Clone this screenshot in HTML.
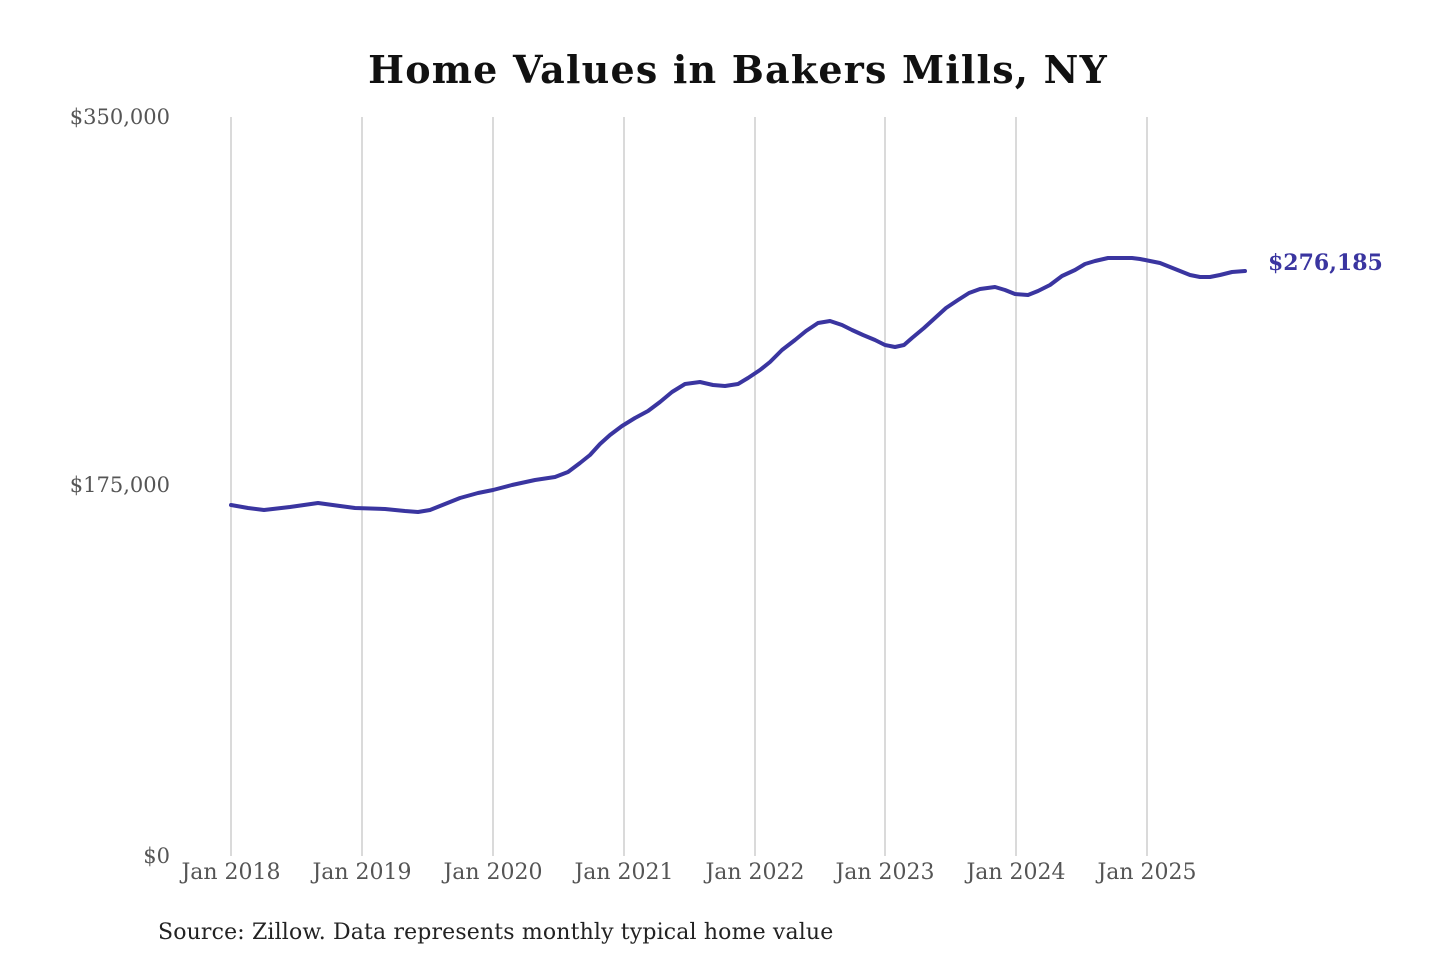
<!DOCTYPE html>
<html><head><meta charset="utf-8"><style>
html,body{margin:0;padding:0;background:#fff;}
</style></head><body>
<svg width="1440" height="960" xmlns="http://www.w3.org/2000/svg" style="display:block">
<rect width="1440" height="960" fill="#fff"/>
<text x="738" y="83" text-anchor="middle" font-family="DejaVu Serif, Liberation Serif, serif" font-weight="bold" font-size="38" letter-spacing="1.2" fill="#111">Home Values in Bakers Mills, NY</text>
<g stroke="#b5b5b5" stroke-width="1">
<line x1="231" y1="117" x2="231" y2="856"/>
<line x1="362" y1="117" x2="362" y2="856"/>
<line x1="493" y1="117" x2="493" y2="856"/>
<line x1="624" y1="117" x2="624" y2="856"/>
<line x1="755" y1="117" x2="755" y2="856"/>
<line x1="885" y1="117" x2="885" y2="856"/>
<line x1="1016" y1="117" x2="1016" y2="856"/>
<line x1="1147" y1="117" x2="1147" y2="856"/>
</g>
<g font-family="DejaVu Serif, Liberation Serif, serif" font-size="21" fill="#555">
<text x="170" y="124" text-anchor="end">$350,000</text>
<text x="170" y="492" text-anchor="end">$175,000</text>
<text x="170" y="863" text-anchor="end">$0</text>
<g text-anchor="middle" font-size="22">
<text x="231" y="879">Jan 2018</text>
<text x="362" y="879">Jan 2019</text>
<text x="493" y="879">Jan 2020</text>
<text x="624" y="879">Jan 2021</text>
<text x="755" y="879">Jan 2022</text>
<text x="885" y="879">Jan 2023</text>
<text x="1016" y="879">Jan 2024</text>
<text x="1147" y="879">Jan 2025</text>
</g>
</g>
<polyline fill="none" stroke="#3a35a0" stroke-width="4" stroke-linejoin="round" stroke-linecap="round"
points="231,505 248,508 264,510 290,507 318,503 340,506 355,508 385,509 405,511 418,512 430,510 445,504 460,498 478,493 493,490 512,485 535,480 555,477 568,472 580,463 590,455 600,444 610,435 622,426 635,418 648,411 660,402 672,392 685,384 700,382 713,385 725,386 738,384 748,378 760,370 770,362 782,350 795,340 806,331 818,323 830,321 842,325 852,330 863,335 875,340 885,345 895,347 904,345 912,338 924,328 935,318 946,308 958,300 969,293 980,289 995,287 1005,290 1015,294 1028,295 1038,291 1050,285 1062,276 1075,270 1085,264 1095,261 1108,258 1120,258 1132,258 1140,259 1150,261 1160,263 1170,267 1180,271 1190,275 1200,277 1210,277 1220,275 1232,272 1245,271"/>
<text x="1268" y="270" font-family="DejaVu Serif, Liberation Serif, serif" font-weight="bold" font-size="22" fill="#3a35a0">$276,185</text>
<text x="158" y="939" font-family="DejaVu Serif, Liberation Serif, serif" font-size="22" letter-spacing="0.15" fill="#222">Source: Zillow. Data represents monthly typical home value</text>
</svg>
</body></html>
